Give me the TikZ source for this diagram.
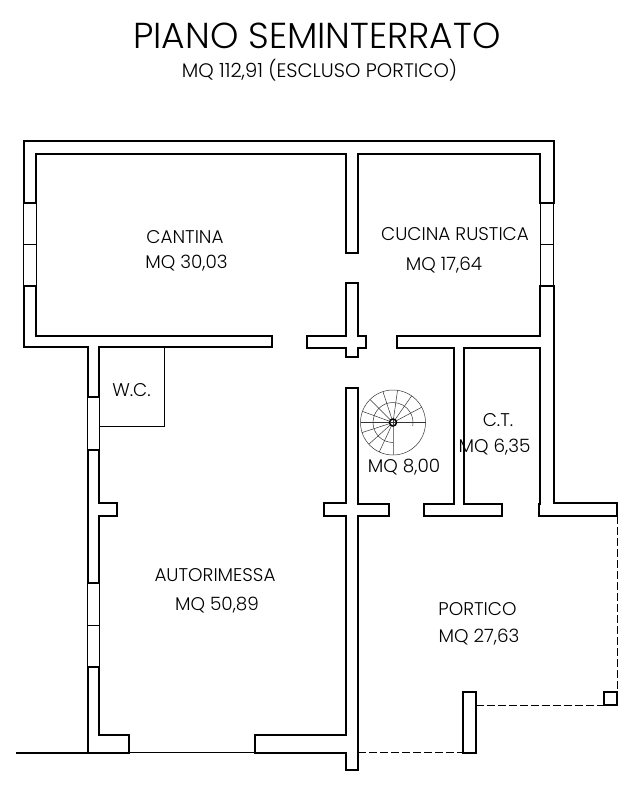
\documentclass[tikz,border=0pt]{standalone}
\usepackage{fontspec}
\setmainfont{Poppins}[UprightFont=* Light]
\tikzset{
  wall/.style={line width=0.6mm, line join=miter},
  frame/.style={line width=0.25mm},
  dashline/.style={line width=0.25mm, dash pattern=on 2.4mm off 0.9mm},
  stairline/.style={line width=0.15mm, draw=black!80},
  tag/.style={inner sep=0pt, font=\fontsize{15.7pt}{18pt}\selectfont},
}
\begin{document}
\begin{tikzpicture}[x=0.3mm,y=-0.3mm]
\useasboundingbox (0,0) rectangle (644,789);
%% title
\node[inner sep=0pt, font=\fontsize{30.8pt}{36pt}\selectfont] (title) at (317,36) {PIANO SEMINTERRATO};
\node[tag, font=\fontsize{16.7pt}{18pt}\selectfont] (subtitle) at (319.5,70) {MQ 112,91 (ESCLUSO PORTICO)};
%% walls
\draw[wall] (23.5,203) -- (23.5,141) -- (553.5,141) -- (553.5,203) -- (540,203) -- (540,154) -- (358,154) -- (358,253) -- (345.5,253) -- (345.5,154) -- (36,154) -- (36,203) -- cycle;
\draw[wall] (23.5,286) -- (36,286) -- (36,336) -- (272,336) -- (272,347) -- (99,347) -- (99,397) -- (87.5,397) -- (87.5,347) -- (23.5,347) -- cycle;
\draw[wall] (306.5,336) -- (345.5,336) -- (345.5,283) -- (358,283) -- (358,336) -- (365.5,336) -- (365.5,347.5) -- (358,347.5) -- (358,357) -- (345.5,357) -- (345.5,347.5) -- (306.5,347.5) -- cycle;
\draw[wall] (396.5,336) -- (540,336) -- (540,286) -- (553.5,286) -- (553.5,503) -- (617,503) -- (617,516) -- (539,516) -- (539,504) -- (540,504) -- (540,347.5) -- (464,347.5) -- (464,504) -- (501.5,504) -- (501.5,516) -- (423.5,516) -- (423.5,504) -- (453.5,504) -- (453.5,347.5) -- (396.5,347.5) -- cycle;
\draw[wall] (345.5,387.5) -- (358,387.5) -- (358,504) -- (388.5,504) -- (388.5,516) -- (358,516) -- (358,770) -- (345.5,770) -- (345.5,752.5) -- (255,752.5) -- (255,735) -- (345.5,735) -- (345.5,516) -- (324,516) -- (324,503) -- (345.5,503) -- cycle;
\draw[wall] (87.5,450) -- (99,450) -- (99,503) -- (116.5,503) -- (116.5,516) -- (99,516) -- (99,583) -- (87.5,583) -- cycle;
\draw[wall] (87.5,667) -- (99,667) -- (99,735) -- (129,735) -- (129,752.5) -- (87.5,752.5) -- cycle;
\draw[wall] (16,752.5) -- (87.5,752.5);
\draw[wall] (462.5,691.5) rectangle (475.5,752.5);
\draw[wall] (604,691.5) rectangle (617,705);
%% windows
\draw[frame] (23.5,203) rectangle (36,286);
\draw[frame] (23.5,244.5) -- (36,244.5);
\draw[frame] (540,203) rectangle (553.5,286);
\draw[frame] (540,244.5) -- (553.5,244.5);
\draw[frame] (87.5,397) rectangle (99,450);
\draw[frame] (87.5,583) rectangle (99,667);
\draw[frame] (87.5,625) -- (99,625);
\draw[frame] (129,752.5) -- (255,752.5);
%% wc
\draw[frame] (164.5,347) -- (164.5,426) -- (99,426);
%% portico
\draw[dashline] (617,516) -- (617,691.5);
\draw[dashline] (475.5,705) -- (604,705);
\draw[dashline] (358,752.5) -- (462.5,752.5);
%% stairs
\coordinate (stair) at (393,422.5);
\draw[stairline] (stair) circle (32.5);
\foreach \a in {0,28,55,82,108,135,160,180,198,222,245}
  \draw[stairline] (stair) -- ++(\a+360:32.5 and -32.5);
\draw[stairline] (393,442.5) arc (90:370:20);
\draw[line width=0.3mm, draw=black!50] (stair) -- ++(0,32.5);
\draw[line width=0.45mm, fill=white] (stair) circle (3.5);
\draw[stairline] (390,422.5) -- (396,422.5) (393,419.5) -- (393,425.5);
%% rooms
\node[tag] (cantina) at (185,237) {CANTINA};
\node[tag] (cantinamq) at (186.5,263.5) {MQ 30,03};
\node[tag] (cucina) at (455,234) {CUCINA RUSTICA};
\node[tag] (cucinamq) at (444,265) {MQ 17,64};
\node[tag] (wc) at (131.5,390) {W.C.};
\node[tag] (ct) at (498,420) {C.T.};
\node[tag] (ctmq) at (494.5,447.5) {MQ 6,35};
\node[tag] (stairmq) at (404,467) {MQ 8,00};
\node[tag] (garage) at (215,575) {AUTORIMESSA};
\node[tag] (garagemq) at (217,605.5) {MQ 50,89};
\node[tag] (portico) at (477.5,609) {PORTICO};
\node[tag] (porticomq) at (479,637.5) {MQ 27,63};
\end{tikzpicture}
\end{document}
